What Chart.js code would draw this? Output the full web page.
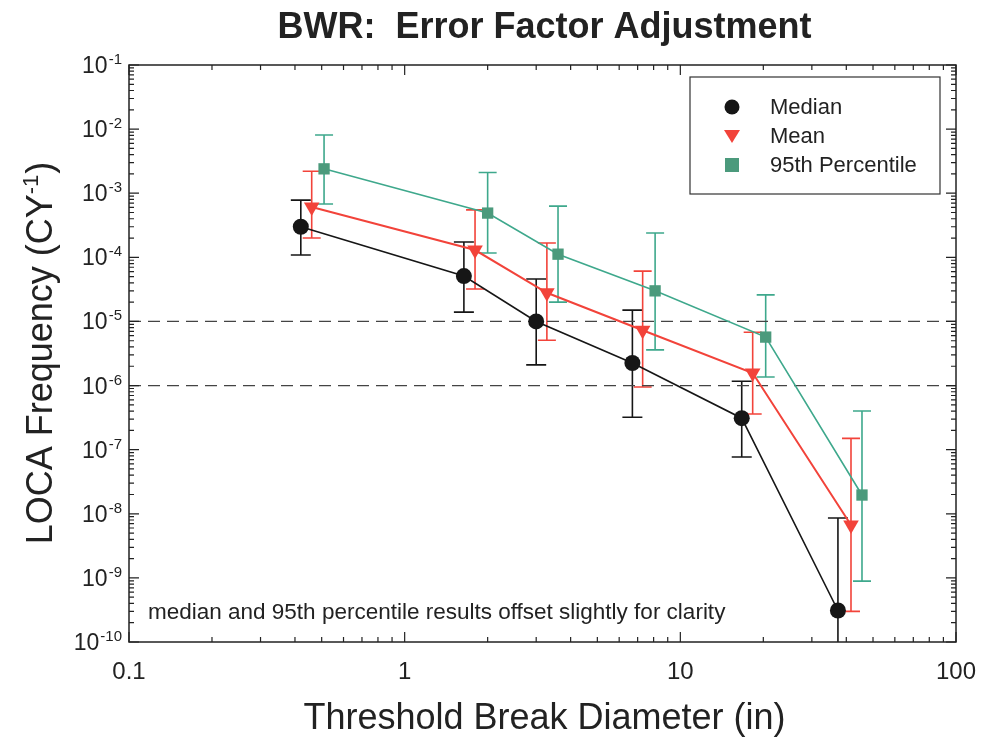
<!DOCTYPE html>
<html>
<head>
<meta charset="utf-8">
<script src="https://cdn.jsdelivr.net/npm/chart.js@4.4.1/dist/chart.umd.min.js"></script>
<style>
  html, body { margin: 0; padding: 0; background: #fff; }
  #wrap { width: 984px; height: 750px; }
</style>
</head>
<body>
<div id="wrap"><canvas id="chart" width="984" height="750"></canvas></div>
<script>
// values (x in inches, y in CY^-1)
const medianX = [0.42, 1.64, 3.0, 6.7, 16.7, 37.3];
const medianY = [3.0e-4, 5.1e-5, 1.0e-5, 2.25e-6, 3.1e-7, 3.1e-10];
const medianHi = [7.8e-4, 1.73e-4, 4.6e-5, 1.5e-5, 1.17e-6, 8.6e-9];
const medianLo = [1.09e-4, 1.4e-5, 2.1e-6, 3.2e-7, 7.7e-8, 1e-11];

const meanX = [0.46, 1.8, 3.28, 7.3, 18.3, 41.6];
const meanY = [6.1e-4, 1.3e-4, 2.8e-5, 7.3e-6, 1.57e-6, 6.7e-9];
const meanHi = [2.2e-3, 5.5e-4, 1.67e-4, 6.1e-5, 6.8e-6, 1.5e-7];
const meanLo = [2.0e-4, 3.2e-5, 5.1e-6, 9.5e-7, 3.6e-7, 3.0e-10];

const p95X = [0.51, 2.0, 3.6, 8.1, 20.4, 45.6];
const p95Y = [2.4e-3, 4.9e-4, 1.12e-4, 3.0e-5, 5.7e-6, 1.96e-8];
const p95Hi = [8.1e-3, 2.1e-3, 6.3e-4, 2.4e-4, 2.6e-5, 4.0e-7];
const p95Lo = [6.8e-4, 1.17e-4, 2.0e-5, 3.6e-6, 1.36e-6, 8.9e-10];

const refLines = [1e-5, 1e-6];
const xTicks = [0.1, 1, 10, 100];
const xTickLabels = ["0.1", "1", "10", "100"];
const yTickExps = [-1, -2, -3, -4, -5, -6, -7, -8, -9, -10];

const seriesNames = ["Median", "Mean", "95th Percentile"];
const FONT = '"Liberation Sans", Arial, Helvetica, sans-serif';

const BLACK = "#161616";
const RED = "#f2433a";
const GREEN = "#3ea88c";
const GREEN_FILL = "#4b9a7c";

function pts(xs, ys) {
  return xs.map((x, i) => ({ x: x, y: ys[i] }));
}

const errorSets = [
  { x: medianX, hi: medianHi, lo: medianLo, color: BLACK, cap: 10 },
  { x: meanX, hi: meanHi, lo: meanLo, color: RED, cap: 9 },
  { x: p95X, hi: p95Hi, lo: p95Lo, color: GREEN, cap: 9 },
];

// error bars under the markers
const errorBars = {
  id: "errorBars",
  beforeDatasetsDraw(chart) {
    const { ctx, chartArea, scales } = chart;
    ctx.save();
    ctx.beginPath();
    ctx.rect(chartArea.left, chartArea.top, chartArea.width, chartArea.height);
    ctx.clip();
    errorSets.forEach((s) => {
      ctx.strokeStyle = s.color;
      ctx.lineWidth = 1.6;
      s.x.forEach((xv, i) => {
        const px = scales.x.getPixelForValue(xv);
        const top = scales.y.getPixelForValue(s.hi[i]);
        const bot = scales.y.getPixelForValue(s.lo[i]);
        ctx.beginPath();
        ctx.moveTo(px, top);
        ctx.lineTo(px, bot);
        ctx.moveTo(px - s.cap, top);
        ctx.lineTo(px + s.cap, top);
        ctx.moveTo(px - s.cap, bot);
        ctx.lineTo(px + s.cap, bot);
        ctx.stroke();
      });
    });
    ctx.restore();
  },
};

// frame, ticks, labels, legend and the note
const decor = {
  id: "decor",
  afterDraw(chart) {
    const { ctx, chartArea: a, scales } = chart;
    const sx = scales.x, sy = scales.y;
    const midX = (a.left + a.right) / 2;
    ctx.save();
    ctx.strokeStyle = "#222";
    ctx.lineWidth = 1.5;
    ctx.strokeRect(a.left, a.top, a.width, a.height);

    // ticks inward on all sides
    ctx.lineWidth = 1.2;
    ctx.beginPath();
    for (let d = -1; d <= 2; d++) {
      for (let m = 1; m <= 9; m++) {
        const v = m * Math.pow(10, d);
        if (v > 100.0001) continue;
        const px = sx.getPixelForValue(v);
        const len = m === 1 ? 10 : 5;
        ctx.moveTo(px, a.bottom); ctx.lineTo(px, a.bottom - len);
        ctx.moveTo(px, a.top); ctx.lineTo(px, a.top + len);
      }
    }
    for (let d = -10; d <= -1; d++) {
      for (let m = 1; m <= 9; m++) {
        const v = m * Math.pow(10, d);
        if (v > 0.10001) continue;
        const py = sy.getPixelForValue(v);
        const len = m === 1 ? 10 : 5;
        ctx.moveTo(a.left, py); ctx.lineTo(a.left + len, py);
        ctx.moveTo(a.right, py); ctx.lineTo(a.right - len, py);
      }
    }
    ctx.stroke();

    ctx.fillStyle = "#222";
    // x tick labels
    ctx.font = "24px " + FONT;
    ctx.textAlign = "center";
    ctx.textBaseline = "middle";
    xTicks.forEach((v, i) => {
      ctx.fillText(xTickLabels[i], sx.getPixelForValue(v), 672);
    });

    // y tick labels 10^n
    yTickExps.forEach((e) => {
      const py = sy.getPixelForValue(Math.pow(10, e));
      ctx.font = "15px " + FONT;
      const expTxt = String(e);
      const ew = ctx.measureText(expTxt).width;
      ctx.textAlign = "left";
      ctx.textBaseline = "alphabetic";
      const right = 122;
      ctx.fillText(expTxt, right - ew, py - 1);
      ctx.font = "23px " + FONT;
      ctx.textAlign = "right";
      ctx.fillText("10", right - ew - 1, py + 8);
    });

    // title
    ctx.textAlign = "center";
    ctx.textBaseline = "alphabetic";
    ctx.font = "bold 36px " + FONT;
    ctx.fillText("BWR:  Error Factor Adjustment", midX + 2, 38);

    // x axis title
    ctx.font = "36px " + FONT;
    ctx.fillText("Threshold Break Diameter (in)", midX + 2, 729);

    // y axis title with superscript
    ctx.save();
    ctx.translate(52, (a.top + a.bottom) / 2);
    ctx.rotate(-Math.PI / 2);
    const p1 = "LOCA Frequency (CY", p2 = "-1", p3 = ")";
    ctx.font = "36px " + FONT;
    const w1 = ctx.measureText(p1).width, w3 = ctx.measureText(p3).width;
    ctx.font = "22px " + FONT;
    const w2 = ctx.measureText(p2).width;
    let x0 = -(w1 + w2 + w3) / 2;
    ctx.textAlign = "left";
    ctx.font = "36px " + FONT;
    ctx.fillText(p1, x0, 0);
    ctx.font = "22px " + FONT;
    ctx.fillText(p2, x0 + w1, -14);
    ctx.font = "36px " + FONT;
    ctx.fillText(p3, x0 + w1 + w2 + 1, 0);
    ctx.restore();

    // note
    ctx.font = "22.5px " + FONT;
    ctx.textAlign = "left";
    ctx.fillText("median and 95th percentile results offset slightly for clarity", 148, 619);

    // legend box
    ctx.fillStyle = "#fff";
    ctx.fillRect(690, 77, 250, 117);
    ctx.strokeStyle = "#333";
    ctx.lineWidth = 1.2;
    ctx.strokeRect(690, 77, 250, 117);
    const rows = [107, 136, 165];
    ctx.font = "22px " + FONT;
    ctx.textBaseline = "middle";
    ctx.fillStyle = "#222";
    seriesNames.forEach((n, i) => ctx.fillText(n, 770, rows[i] + 1));
    // markers
    ctx.fillStyle = BLACK;
    ctx.beginPath(); ctx.arc(732, rows[0], 7.5, 0, Math.PI * 2); ctx.fill();
    ctx.fillStyle = RED;
    ctx.beginPath();
    ctx.moveTo(724, rows[1] - 6); ctx.lineTo(740, rows[1] - 6); ctx.lineTo(732, rows[1] + 7);
    ctx.closePath(); ctx.fill();
    ctx.fillStyle = GREEN_FILL;
    ctx.fillRect(725, rows[2] - 7, 14, 14);
    ctx.restore();
  },
};

new Chart(document.getElementById("chart"), {
  type: "line",
  data: {
    datasets: [
      {
        label: seriesNames[0],
        data: pts(medianX, medianY),
        borderColor: BLACK,
        backgroundColor: BLACK,
        borderWidth: 1.6,
        pointStyle: "circle",
        pointRadius: 8,
        pointBorderWidth: 0,
      },
      {
        label: seriesNames[1],
        data: pts(meanX, meanY),
        borderColor: RED,
        backgroundColor: RED,
        borderWidth: 2,
        pointStyle: "triangle",
        pointRotation: 180,
        pointRadius: 9,
        pointBorderWidth: 0,
      },
      {
        label: seriesNames[2],
        data: pts(p95X, p95Y),
        borderColor: GREEN,
        backgroundColor: GREEN_FILL,
        borderWidth: 1.6,
        pointStyle: "rect",
        pointRadius: 8,
        pointBorderWidth: 0,
      },
      ...refLines.map((y) => ({
        label: "ref",
        data: [{ x: 0.1, y: y }, { x: 100, y: y }],
        borderColor: "#444",
        borderWidth: 1.2,
        borderDash: [12, 7],
        pointRadius: 0,
      })),
    ],
  },
  options: {
    responsive: false,
    animation: false,
    layout: { padding: { left: 129, top: 65, right: 28, bottom: 108 } },
    plugins: {
      legend: { display: false },
      title: { display: false },
      tooltip: { enabled: false },
    },
    scales: {
      x: { type: "logarithmic", min: 0.1, max: 100, display: false },
      y: { type: "logarithmic", min: 1e-10, max: 1e-1, display: false },
    },
  },
  plugins: [errorBars, decor],
});
</script>
</body>
</html>
